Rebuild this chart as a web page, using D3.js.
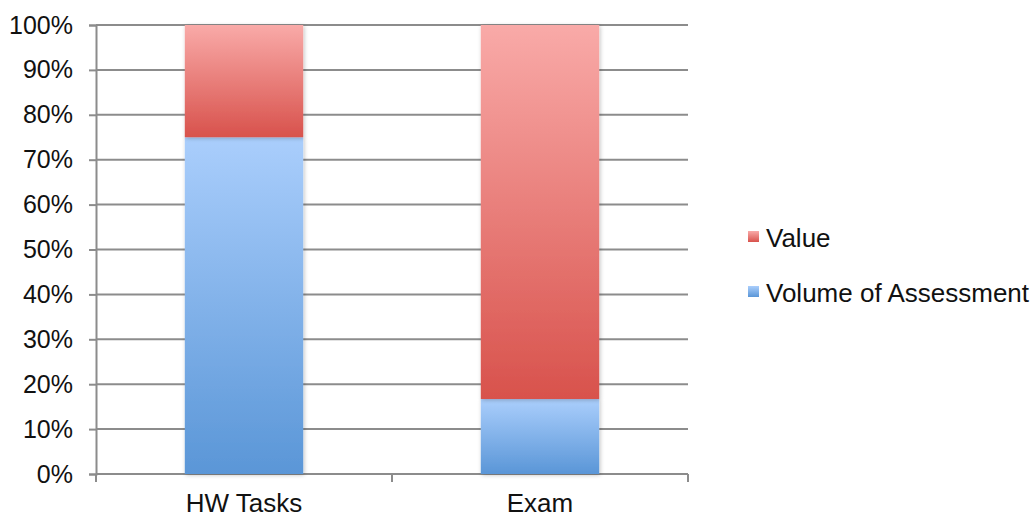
<!DOCTYPE html>
<html>
<head>
<meta charset="utf-8">
<script src="https://cdn.jsdelivr.net/npm/d3@7"></script>
<style>
  html, body { margin: 0; padding: 0; background: #fff; }
  svg { display: block; }
  text { font-family: "Liberation Sans", Arial, Helvetica, sans-serif; fill: #111; }
</style>
</head>
<body>
<svg id="chart" width="1034" height="519"></svg>
<script>
// Categories and stacked shares (fractions of 100%)
const categories = ["HW Tasks", "Exam"];
const seriesNames = ["Volume of Assessment", "Value"];
const volumeOfAssessment = [0.75, 0.167];
const value = [0.25, 0.833];
const yTicks = [0, 0.1, 0.2, 0.3, 0.4, 0.5, 0.6, 0.7, 0.8, 0.9, 1.0];

const svg = d3.select("#chart");
const margin = { left: 96, right: 346, top: 25, bottom: 45 };
const W = 1034, H = 519;

const x = d3.scaleBand()
  .domain(categories)
  .range([margin.left, W - margin.right])
  .paddingInner(0.6)
  .paddingOuter(0.3);

const y = d3.scaleLinear()
  .domain([0, 1])
  .range([H - margin.bottom, margin.top]);

// Gradients for the bar fills
const defs = svg.append("defs");
function grad(id, top, bottom) {
  const g = defs.append("linearGradient").attr("id", id)
    .attr("x1", 0).attr("y1", 0).attr("x2", 0).attr("y2", 1);
  g.append("stop").attr("offset", "0%").attr("stop-color", top);
  g.append("stop").attr("offset", "100%").attr("stop-color", bottom);
}
grad("gBlue", "#aacefc", "#5a96d7");
grad("gRed", "#f9aaa8", "#d8524c");

const shadow = defs.append("filter").attr("id", "shadow")
  .attr("x", "-10%").attr("y", "-10%").attr("width", "120%").attr("height", "120%");
shadow.append("feGaussianBlur").attr("in", "SourceAlpha").attr("stdDeviation", 2);
shadow.append("feOffset").attr("dx", 1).attr("dy", 1).attr("result", "b");
shadow.append("feComponentTransfer").append("feFuncA").attr("type", "linear").attr("slope", 0.25);
const merge = shadow.append("feMerge");
merge.append("feMergeNode");
merge.append("feMergeNode").attr("in", "SourceGraphic");

// Horizontal gridlines + y-axis
const yAxis = d3.axisLeft(y)
  .tickValues(yTicks)
  .tickFormat(d3.format(".0%"))
  .tickSize(7)
  .tickPadding(16);

const gy = svg.append("g").attr("transform", `translate(${margin.left},0)`).call(yAxis);
gy.select(".domain").attr("stroke", "#8c8c8c").attr("stroke-width", 2);
gy.selectAll(".tick line").attr("stroke", "#8c8c8c").attr("stroke-width", 2);
gy.selectAll(".tick text").style("font-size", "25px").attr("fill", "#111");

svg.append("g").selectAll("line")
  .data(yTicks.filter(d => d > 0))
  .join("line")
  .attr("x1", margin.left).attr("x2", W - margin.right)
  .attr("y1", d => y(d)).attr("y2", d => y(d))
  .attr("stroke", "#8c8c8c").attr("stroke-width", 2);

// Bottom axis with ticks between categories
const x0 = margin.left, x1 = W - margin.right;
const gx = svg.append("g");
gx.append("line").attr("x1", x0).attr("x2", x1)
  .attr("y1", y(0)).attr("y2", y(0))
  .attr("stroke", "#8c8c8c").attr("stroke-width", 2);
const step = (x1 - x0) / categories.length;
gx.selectAll("line.tk")
  .data(d3.range(categories.length + 1))
  .join("line").attr("class", "tk")
  .attr("x1", i => x0 + i * step).attr("x2", i => x0 + i * step)
  .attr("y1", y(0)).attr("y2", y(0) + 8)
  .attr("stroke", "#8c8c8c").attr("stroke-width", 2);
gx.selectAll("text")
  .data(categories)
  .join("text")
  .attr("x", d => x(d) + x.bandwidth() / 2)
  .attr("y", 512)
  .attr("text-anchor", "middle")
  .style("font-size", "26px")
  .text(d => d);

// Stacked bars
const rows = categories.map((c, i) => ({ cat: c, "Volume of Assessment": volumeOfAssessment[i], "Value": value[i] }));
const stack = d3.stack().keys(seriesNames)(rows);
const fills = { "Volume of Assessment": "url(#gBlue)", "Value": "url(#gRed)" };

svg.append("g").selectAll("g")
  .data(stack)
  .join("g")
  .attr("fill", s => fills[s.key])
  .selectAll("rect")
  .data(s => s)
  .join("rect")
  .attr("filter", "url(#shadow)")
  .attr("x", d => x(d.data.cat))
  .attr("width", x.bandwidth())
  .attr("y", d => y(d[1]))
  .attr("height", d => y(d[0]) - y(d[1]));

// Legend
const legendItems = ["Value", "Volume of Assessment"];
const legendColors = { "Value": "url(#gRed)", "Volume of Assessment": "url(#gBlue)" };
const lg = svg.append("g").selectAll("g")
  .data(legendItems)
  .join("g")
  .attr("transform", (d, i) => `translate(748, ${231 + i * 55})`);
lg.append("rect").attr("width", 11).attr("height", 11).attr("fill", d => legendColors[d]);
lg.append("text").attr("x", 18).attr("y", 16).style("font-size", "26px").text(d => d);
</script>
</body>
</html>
